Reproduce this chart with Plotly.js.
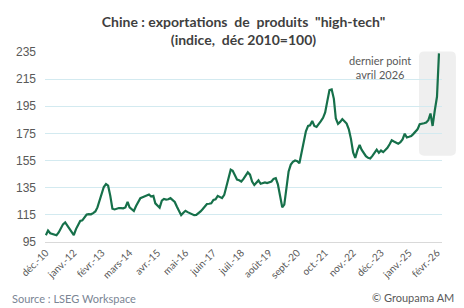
<!DOCTYPE html>
<html>
<head>
<meta charset="utf-8">
<script src="https://cdn.plot.ly/plotly-3.0.1.min.js"></script>
<style>
  html, body { margin: 0; padding: 0; background: #ffffff; }
  #chart { width: 464px; height: 308px; }
</style>
</head>
<body>
<div id="chart"></div>
<script>
// Monthly index of Chinese high-tech exports (Dec 2010 = 100), one array per calendar year
const startMonth = '2010-12';
const v2010 = [100];
const v2011 = [103.5, 101.5, 101, 100.5, 100, 102, 104.5, 108, 109.5, 107, 104.5, 102.5];
const v2012 = [100, 104.5, 108, 110.5, 111, 113.5, 115.2, 115.5, 115.4, 116.3, 117.5, 120.5];
const v2013 = [126, 131, 135.5, 137.7, 136.5, 129, 119.5, 119, 119.8, 120, 120, 119.8];
const v2014 = [120.5, 124.5, 120.5, 119, 117.8, 121.5, 124.7, 127.3, 128, 128.5, 129, 130];
const v2015 = [128.5, 129, 123.5, 121.5, 120.3, 125.5, 126.7, 126.3, 126.5, 127.3, 125.8, 124.5];
const v2016 = [121, 117.3, 114.8, 116.5, 118, 117, 116.1, 115.5, 114.8, 115, 116.1, 117.5];
const v2017 = [119.3, 121, 123, 123.2, 123.5, 126, 126.5, 129, 128, 127.3, 129.7, 136];
const v2018 = [143.5, 148.3, 147.5, 144.5, 141, 140.5, 139.6, 141.5, 144.5, 146.3, 144.6, 139.5];
const v2019 = [137, 138.5, 140.4, 137.9, 138.5, 138.9, 138.4, 139.2, 139.6, 141.5, 142.1, 137.5];
const v2020 = [128, 120.6, 122.5, 137, 147, 152, 154, 155, 154.5, 153, 161, 169];
const v2021 = [176.5, 180.5, 181, 184.2, 180.5, 179.8, 181.5, 184, 186.5, 190.4, 199, 207];
const v2022 = [207.5, 200.5, 186, 182, 183.5, 185.5, 184, 182.3, 178, 171, 161, 157];
const v2023 = [162.5, 166.5, 163, 160, 158.2, 157, 156.5, 158.5, 161, 163, 160.7, 162.4];
const v2024 = [161.2, 162.5, 164.4, 167, 169.9, 169, 168, 167.4, 168.5, 170.6, 174.8, 172];
const v2025 = [172.5, 173.1, 174.5, 176.3, 178, 181.8, 182, 182.5, 183, 184.7, 189.7, 180.5];
const v2026 = [192, 202, 234];

// Axis ticks every 13 months
const tickDates = ['2010-12-01', '2012-01-01', '2013-02-01', '2014-03-01', '2015-04-01',
  '2016-05-01', '2017-06-01', '2018-07-01', '2019-08-01', '2020-09-01', '2021-10-01',
  '2022-11-01', '2023-12-01', '2025-01-01', '2026-02-01'];
const tickLabels = ['déc.-10', 'janv.-12', 'févr.-13', 'mars-14', 'avr.-15', 'mai-16',
  'juin-17', 'juil.-18', 'août-19', 'sept.-20', 'oct.-21', 'nov.-22', 'déc.-23',
  'janv.-25', 'févr.-26'];
const yTicks = [95, 115, 135, 155, 175, 195, 215, 235];

const values = [].concat(v2010, v2011, v2012, v2013, v2014, v2015, v2016, v2017,
  v2018, v2019, v2020, v2021, v2022, v2023, v2024, v2025, v2026);

// month dates matching each value
const dates = [];
{
  let y = +startMonth.slice(0, 4), m = +startMonth.slice(5, 7);
  for (let i = 0; i < values.length; i++) {
    dates.push(y + '-' + String(m).padStart(2, '0') + '-01');
    m++; if (m > 12) { m = 1; y++; }
  }
}

const trace = {
  x: dates,
  y: values,
  type: 'scatter',
  mode: 'lines',
  line: { color: '#16704a', width: 2.2 },
  hoverinfo: 'x+y'
};

// rounded highlight box around the latest months (paper coordinates)
function roundedBox(x0, y0, x1, y1, rx, ry) {
  return `M ${x0 + rx},${y0} L ${x1 - rx},${y0} Q ${x1},${y0} ${x1},${y0 + ry} ` +
    `L ${x1},${y1 - ry} Q ${x1},${y1} ${x1 - rx},${y1} L ${x0 + rx},${y1} ` +
    `Q ${x0},${y1} ${x0},${y1 - ry} L ${x0},${y0 + ry} Q ${x0},${y0} ${x0 + rx},${y0} Z`;
}

const layout = {
  width: 464,
  height: 308,
  margin: { l: 45, r: 22, t: 52, b: 66 },
  paper_bgcolor: '#ffffff',
  plot_bgcolor: '#ffffff',
  showlegend: false,
  title: {
    text: 'Chine : exportations  de  produits  "high-tech"<br>(indice,  déc 2010=100)',
    font: { family: 'Lato, sans-serif', size: 14, color: '#3f3f3f', weight: 'bold' },
    x: 0.5, xanchor: 'center', xref: 'paper',
    yref: 'container', y: 0.913, yanchor: 'middle'
  },
  xaxis: {
    type: 'date',
    range: ['2010-11-19', '2026-04-13'],
    tickmode: 'array',
    tickvals: tickDates,
    ticktext: tickLabels,
    tickangle: -45,
    tickfont: { family: 'Lato, sans-serif', size: 10, color: '#595959' },
    showgrid: false,
    showline: true,
    linecolor: '#d9d9d9',
    linewidth: 1,
    ticks: '',
    zeroline: false
  },
  yaxis: {
    range: [95, 235],
    tickmode: 'array',
    tickvals: yTicks,
    tickfont: { family: 'Liberation Sans, Arial, sans-serif', size: 12, color: '#595959' },
    showgrid: true,
    gridcolor: '#d3eaf0',
    gridwidth: 1,
    zeroline: false,
    showline: false,
    ticks: '',
    ticklabelstandoff: 8
  },
  shapes: [{
    type: 'path',
    xref: 'paper', yref: 'paper',
    path: roundedBox(0.942, 0.454, 1.035, 1.002, 0.013, 0.027),
    fillcolor: '#efefef',
    line: { width: 0 },
    layer: 'below'
  }],
  annotations: [
    {
      text: 'dernier point<br>avril 2026',
      xref: 'paper', yref: 'paper',
      x: 0.844, y: 1.0, xanchor: 'center', yanchor: 'top',
      showarrow: false,
      font: { family: 'Lato, sans-serif', size: 11, color: '#595959' }
    },
    {
      text: 'Source : LSEG Workspace',
      xref: 'paper', yref: 'paper',
      x: -0.088, y: -0.295, xanchor: 'left', yanchor: 'middle',
      showarrow: false,
      font: { family: 'Lato, sans-serif', size: 11, color: '#7a8594' }
    },
    {
      text: '© Groupama AM',
      xref: 'paper', yref: 'paper',
      x: 1.035, y: -0.29, xanchor: 'right', yanchor: 'middle',
      showarrow: false,
      font: { family: 'Lato, sans-serif', size: 11, color: '#595959' }
    }
  ]
};

Plotly.newPlot('chart', [trace], layout, { displayModeBar: false, staticPlot: true });
</script>
</body>
</html>
